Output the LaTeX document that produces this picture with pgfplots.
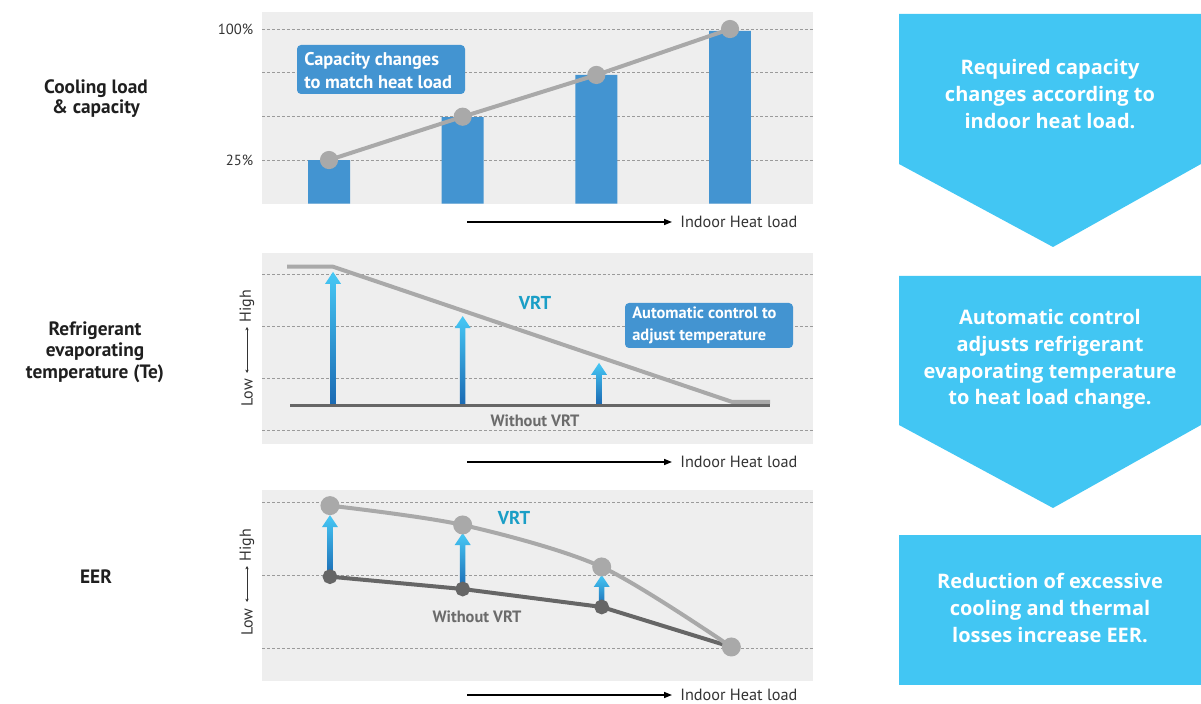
\documentclass[border=0pt]{standalone}
\usepackage{fontspec}
\setmainfont{PT Sans}
\newfontfamily\boxfont{Open Sans}
\usepackage{pgfplots}
\pgfplotsset{compat=1.18}
\usetikzlibrary{arrows.meta}

\definecolor{bggray}{HTML}{EEEEEE}
\definecolor{gridgray}{HTML}{9A9A9A}
\definecolor{barblue}{HTML}{4394D1}
\definecolor{linegray}{HTML}{A9A9A9}
\definecolor{darkline}{HTML}{666666}
\definecolor{vrtblue}{HTML}{1A9EC6}
\definecolor{wotext}{HTML}{6B6B6B}
\definecolor{boxcyan}{HTML}{42C6F3}
\definecolor{arrdark}{HTML}{1B6AB3}
\definecolor{arrlight}{HTML}{46C8F5}
\definecolor{labelgray}{HTML}{333333}

\pgfplotsset{panel/.style={
    scale only axis, width=413pt,
    xmin=0.5, xmax=4.62,
    anchor=south west,
    axis background/.style={fill=bggray},
    axis line style={draw=none},
    xtick=\empty,
    major tick length=0pt,
    ymajorgrids,
    major grid style={gridgray, line width=0.6pt, dash pattern=on 2.2pt off 1.5pt},
}}

% gradient arrow: x, base y, tip y (axis units)
\newcommand{\vrtarrow}[3]{%
  \shade[bottom color=arrdark, top color=arrlight]
    ([xshift=-2.1pt]axis cs:#1,#2) -- ([xshift=-2.1pt,yshift=-9pt]axis cs:#1,#3)
    -- ([xshift=-6pt,yshift=-9pt]axis cs:#1,#3) -- (axis cs:#1,#3)
    -- ([xshift=6pt,yshift=-9pt]axis cs:#1,#3) -- ([xshift=2.1pt,yshift=-9pt]axis cs:#1,#3)
    -- ([xshift=2.1pt]axis cs:#1,#2) -- cycle;}

\newcommand{\heatarrow}[1]{%
  \draw[line width=1.1pt, -{Triangle[length=6pt,width=4.5pt]}] (467,#1) -- (672,#1);
  \node[anchor=west, inner sep=0pt, font=\fontsize{12.2}{14}\selectfont, text=labelgray] at (680,#1) {Indoor Heat load};}

\newcommand{\lowhigh}[3]{% x, low centre, high centre
  \node[rotate=90, inner sep=0pt, font=\fontsize{12}{14}\selectfont, text=labelgray] at (#1,#2) {Low};
  \node[rotate=90, inner sep=0pt, font=\fontsize{12}{14}\selectfont, text=labelgray] at (#1,#3) {High};
  \draw[labelgray, line width=0.5pt, {Stealth[length=2.5pt,width=2.5pt]}-{Stealth[length=2.5pt,width=2.5pt]}]
    (#1,#2+20) -- (#1,#3-21);}

\begin{document}
\begin{tikzpicture}[x=0.75pt, y=0.75pt]
\useasboundingbox (0,0) rectangle (1201,703);

% ---------- panel 1: cooling load & capacity
\begin{axis}[panel, at={(196.65pt,374.475pt)}, height=144.1pt,
    ymin=0, ymax=110,
    ytick={25,50,75,100}, yticklabels={25\%,,,100\%},
    yticklabel style={font=\fontsize{11}{12}\selectfont, text=labelgray,
      anchor=east, inner sep=0pt, xshift=-6.5pt}]
  \addplot[ybar, bar width=0.314, fill=barblue, draw=none]
    coordinates {(1,25) (2,49.5) (3,73.7) (4,99)};
  \addplot[linegray, line width=3pt, mark=*, mark size=5.3pt,
    mark options={fill=linegray, draw=none}]
    coordinates {(1,25) (2,49.8) (3,73.7) (4,100)};
\end{axis}

% ---------- panel 2: evaporating temperature
\begin{axis}[panel, at={(196.65pt,194.25pt)}, height=143.1pt,
    ymin=-0.27, ymax=3.40,
    ytick={0,1,2,3}, yticklabels={}]
  \vrtarrow{1.03}{0.5}{3.04}
  \vrtarrow{2.0}{0.5}{2.19}
  \vrtarrow{3.02}{0.5}{1.29}
  \addplot[darkline, line width=2.6pt] coordinates {(0.708,0.47) (4.30,0.47)};
  \addplot[linegray, line width=3pt]
    coordinates {(0.686,3.14) (1.03,3.14) (4.015,0.54) (4.30,0.54)};
\end{axis}

% ---------- panel 3: EER
\begin{axis}[panel, at={(196.65pt,16.5pt)}, height=143.25pt,
    ymin=-0.452, ymax=2.164,
    ytick={0,1,2}, yticklabels={}]
  \vrtarrow{1.007}{0.977}{1.82}
  \vrtarrow{2.0}{0.808}{1.575}
  \vrtarrow{3.04}{0.562}{1.0}
  \addplot[darkline, line width=3pt, mark=*, mark size=4pt,
    mark options={fill=darkline, draw=none}]
    coordinates {(1.007,0.977) (2.0,0.808) (3.04,0.562) (4.01,0.014)};
  \addplot[linegray, line width=3pt, smooth, mark=*, mark size=5.6pt,
    mark options={fill=linegray, draw=none}]
    coordinates {(1.007,1.95) (2.0,1.685) (3.04,1.11) (4.01,0.014)};
\end{axis}

% ---------- callouts and labels inside panels
\fill[barblue, rounded corners=3pt] (297,658) rectangle (465,609);
\node[anchor=west, align=left, inner sep=0pt, text=white,
  font=\bfseries\fontsize{13.8}{17}\selectfont] at (304,632.5)
  {Capacity changes\\to match heat load};

\fill[barblue, rounded corners=3pt] (625,400) rectangle (793,355);
\node[anchor=west, align=left, inner sep=0pt, text=white,
  font=\bfseries\fontsize{12.3}{16.5}\selectfont] at (632,377.5)
  {Automatic control to\\adjust temperature};

\node[text=vrtblue, font=\bfseries\fontsize{14}{16}\selectfont] at (535,400) {VRT};
\node[text=wotext, font=\bfseries\fontsize{12.3}{14}\selectfont] at (535,282) {Without VRT};
\node[text=vrtblue, font=\bfseries\fontsize{14}{16}\selectfont] at (514,185) {VRT};
\node[text=wotext, font=\bfseries\fontsize{12.3}{14}\selectfont] at (477,86) {Without VRT};

\lowhigh{247}{310}{397}
\lowhigh{247}{81}{158}

\heatarrow{481}
\heatarrow{241}
\heatarrow{8}

% ---------- row titles
\node[align=center, text=black!88, font=\bfseries\fontsize{14.5}{15}\selectfont] at (96,604)
  {Cooling load\\\& capacity};
\node[align=center, text=black!88, font=\bfseries\fontsize{14.5}{16}\selectfont] at (95,351)
  {Refrigerant\\evaporating\\temperature (Te)};
\node[text=black!88, font=\bfseries\fontsize{14.5}{15}\selectfont] at (96,126) {EER};

% ---------- right-hand chevrons
\fill[boxcyan] (899,689) -- (1201,689) -- (1201,539) -- (1053,456) -- (899,539) -- cycle;
\fill[boxcyan] (899,427) -- (1201,427) -- (1201,278) -- (1053,195) -- (899,278) -- cycle;
\fill[boxcyan] (899,18) rectangle (1201,168);

\node[align=center, text=white, font=\boxfont\bfseries\fontsize{15}{20}\selectfont] at (1050,609)
  {Required capacity\\changes according to\\indoor heat load.};
\node[align=center, text=white, font=\boxfont\bfseries\fontsize{15}{20}\selectfont] at (1050,343.5)
  {Automatic control\\adjusts refrigerant\\evaporating temperature\\to heat load change.};
\node[align=center, text=white, font=\boxfont\bfseries\fontsize{15}{20}\selectfont] at (1050,95)
  {Reduction of excessive\\cooling and thermal\\losses increase EER.};
\end{tikzpicture}
\end{document}
